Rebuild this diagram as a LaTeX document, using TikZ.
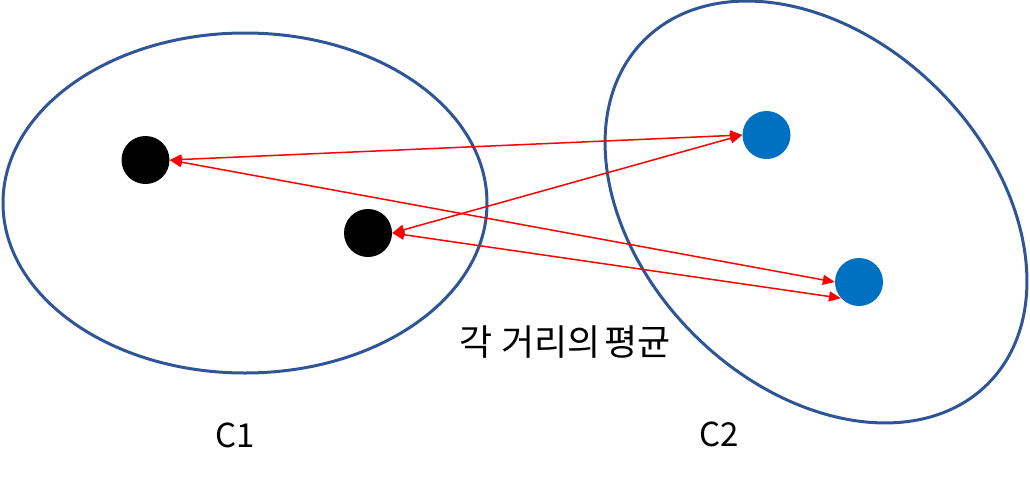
\documentclass[tikz,border=0pt]{standalone}
\usepackage{fontspec}
\setmainfont{Noto Sans CJK KR}
\usetikzlibrary{arrows.meta}
\definecolor{clusterline}{HTML}{2F5597}
\definecolor{bluedot}{HTML}{0070C0}
\definecolor{linkred}{HTML}{FF0000}
\tikzset{
  cluster/.style={draw=clusterline, line width=3pt},
  blackdot/.style={circle, fill=black, minimum size=48pt, inner sep=0pt},
  bluept/.style={circle, fill=bluedot, minimum size=48pt, inner sep=0pt},
  link/.style={draw=linkred, line width=1.5pt, {Triangle[length=12pt,width=10pt]}-{Triangle[length=12pt,width=10pt]}},
  lbl/.style={font=\fontsize{33}{40}\selectfont, inner sep=0pt},
  biglbl/.style={font=\fontsize{36}{42}\selectfont, inner sep=0pt}
}
\begin{document}
\begin{tikzpicture}[x=1pt,y=-1pt]
\useasboundingbox (0,0) rectangle (1030,479);
\draw[cluster] (245,203) ellipse [x radius=242, y radius=170];
\draw[cluster, rotate around={-45:(816,212)}] (816,212) ellipse [x radius=243, y radius=173];
\node[blackdot] (A) at (145.5,160) {};
\node[blackdot] (B) at (368,233) {};
\node[bluept] (C) at (766.5,135) {};
\node[bluept] (D) at (859,282) {};
\draw[link] (A.east) -- (C.west);
\draw[link] (A.east) -- (D.west);
\draw[link] (B.east) -- (C.west);
\draw[link] (B.east) -- (D.222);
\node[biglbl] (T) at (565.5,342) {각 거리의\hspace{-0.1em} 평균};
\node[lbl] (C1) at (235.5,435) {C1};
\node[lbl] (C2) at (719.5,434) {C2};
\end{tikzpicture}
\end{document}
